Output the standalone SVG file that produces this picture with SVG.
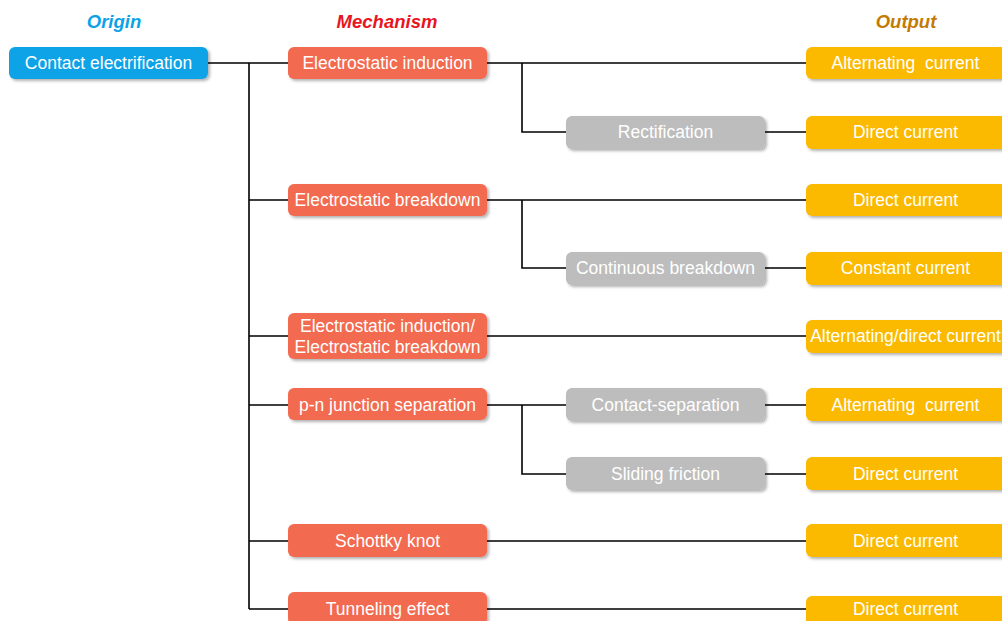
<svg xmlns="http://www.w3.org/2000/svg" width="1002" height="621" viewBox="0 0 1002 621">
<defs>
<filter id="sh" x="-10%" y="-20%" width="130%" height="160%">
<feDropShadow dx="2" dy="2" stdDeviation="1.5" flood-color="#000" flood-opacity="0.3"/>
</filter>
<style>
.b{filter:url(#sh)}
.blue{fill:#0BA3E6}
.red{fill:#F26A50}
.grey{fill:#BDBDBD}
.yel{fill:#FBBA00}
.t{font-family:"Liberation Sans",Arial,sans-serif;font-size:17.5px;fill:#fff;text-anchor:middle;dominant-baseline:central;white-space:pre}
.h{font-family:"Liberation Sans",Arial,sans-serif;font-size:18.5px;font-weight:bold;font-style:italic;text-anchor:middle}
.c{stroke:#000;stroke-width:1.6;fill:none}
</style>
</defs>
<rect width="1002" height="621" fill="#fff"/>
<text class="h" x="114" y="28" fill="#0BA3E6">Origin</text>
<text class="h" x="387" y="28" fill="#E8141E">Mechanism</text>
<text class="h" x="906" y="28" fill="#C47A00">Output</text>
<g id="connectors">
<path class="c" d="M208 63H288M249 63V609M249 200H288M249 336H288M249 405H288M249 541H288M249 609H288"/>
<path class="c" d="M487 63H806M522 63V132H566M765 132H806"/>
<path class="c" d="M487 200H806M522 200V268H566M765 268H806"/>
<path class="c" d="M487 336H806"/>
<path class="c" d="M487 405H566M522 405V474H566M765 405H806M765 474H806"/>
<path class="c" d="M487 541H806M487 609H806"/>
</g>
<g id="origin"><rect class="b blue" x="9" y="47" width="199" height="32" rx="6"/><text class="t" x="108.5" y="63">Contact electrification</text></g>
<g id="m1"><rect class="b red" x="288" y="47" width="199" height="32" rx="6"/><text class="t" x="387.5" y="63">Electrostatic induction</text></g>
<g id="m2"><rect class="b red" x="288" y="184" width="199" height="32" rx="6"/><text class="t" x="387.5" y="200">Electrostatic breakdown</text></g>
<g id="m3"><rect class="b red" x="288" y="313" width="199" height="46" rx="6"/><text class="t" x="387.5" y="326">Electrostatic induction/</text><text class="t" x="387.5" y="347">Electrostatic breakdown</text></g>
<g id="m4"><rect class="b red" x="288" y="388" width="199" height="32" rx="6"/><text class="t" x="387.5" y="405">p-n junction separation</text></g>
<g id="m5"><rect class="b red" x="288" y="524" width="199" height="33" rx="6"/><text class="t" x="387.5" y="541">Schottky knot</text></g>
<g id="m6"><rect class="b red" x="288" y="592" width="199" height="33" rx="6"/><text class="t" x="387.5" y="609">Tunneling effect</text></g>
<g id="g1"><rect class="b grey" x="566" y="116" width="199" height="33" rx="6"/><text class="t" x="665.5" y="132">Rectification</text></g>
<g id="g2"><rect class="b grey" x="566" y="252" width="199" height="33" rx="6"/><text class="t" x="665.5" y="268">Continuous breakdown</text></g>
<g id="g3"><rect class="b grey" x="566" y="388" width="199" height="33" rx="6"/><text class="t" x="665.5" y="405">Contact-separation</text></g>
<g id="g4"><rect class="b grey" x="566" y="457" width="199" height="33" rx="6"/><text class="t" x="665.5" y="474">Sliding friction</text></g>
<g id="o1"><rect class="b yel" x="806" y="47" width="210" height="32" rx="6"/><text class="t" x="905.5" y="63">Alternating  current</text></g>
<g id="o2"><rect class="b yel" x="806" y="116" width="210" height="33" rx="6"/><text class="t" x="905.5" y="132">Direct current</text></g>
<g id="o3"><rect class="b yel" x="806" y="184" width="210" height="32" rx="6"/><text class="t" x="905.5" y="200">Direct current</text></g>
<g id="o4"><rect class="b yel" x="806" y="252" width="210" height="33" rx="6"/><text class="t" x="905.5" y="268">Constant current</text></g>
<g id="o5"><rect class="b yel" x="806" y="320" width="210" height="33" rx="6"/><text class="t" x="905.5" y="336">Alternating/direct current</text></g>
<g id="o6"><rect class="b yel" x="806" y="388" width="210" height="33" rx="6"/><text class="t" x="905.5" y="405">Alternating  current</text></g>
<g id="o7"><rect class="b yel" x="806" y="457" width="210" height="33" rx="6"/><text class="t" x="905.5" y="474">Direct current</text></g>
<g id="o8"><rect class="b yel" x="806" y="524" width="210" height="33" rx="6"/><text class="t" x="905.5" y="541">Direct current</text></g>
<g id="o9"><rect class="b yel" x="806" y="596" width="210" height="33" rx="6"/><text class="t" x="905.5" y="609">Direct current</text></g>
</svg>
